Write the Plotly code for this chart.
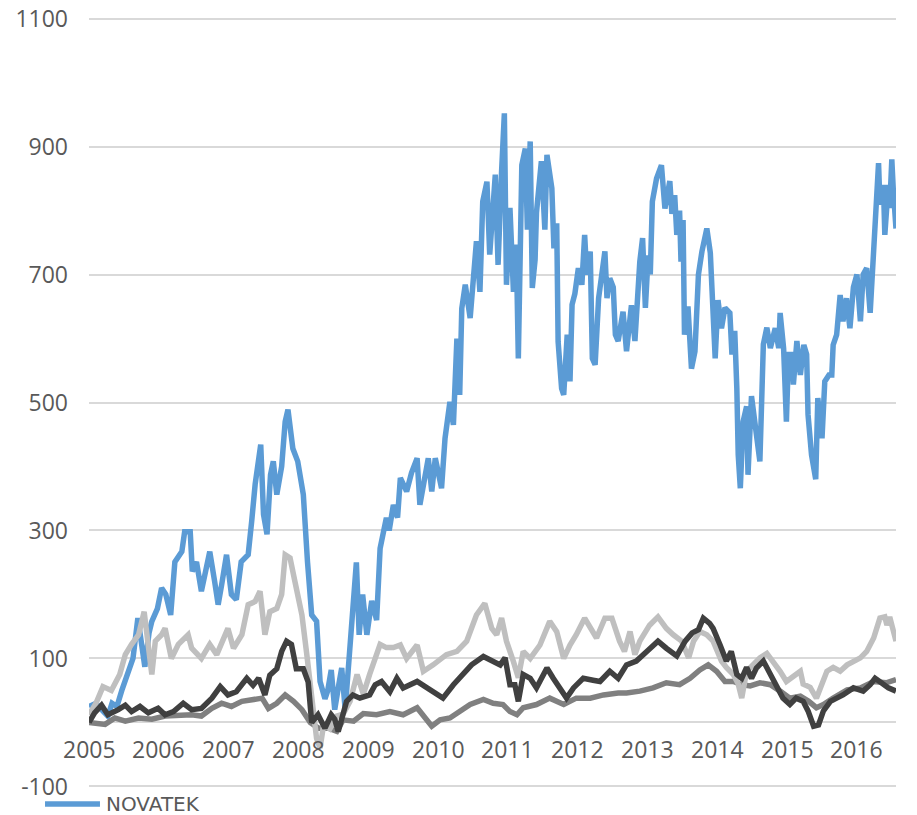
import plotly.graph_objects as go

# ---------------- data (decimal years, index values) ----------------
novatek_t = [2005.00, 2005.10, 2005.18, 2005.27, 2005.33, 2005.40, 2005.47, 2005.56, 2005.63, 2005.70,
             2005.76, 2005.80, 2005.86, 2005.90, 2005.98, 2006.04, 2006.10, 2006.17, 2006.23, 2006.33,
             2006.37, 2006.45, 2006.48, 2006.54, 2006.61, 2006.68, 2006.73, 2006.80, 2006.85, 2006.90,
             2006.97, 2007.04, 2007.11, 2007.18, 2007.28, 2007.33, 2007.38, 2007.46, 2007.50, 2007.55,
             2007.60, 2007.64, 2007.69, 2007.76, 2007.81, 2007.85, 2007.92, 2007.99, 2008.07, 2008.13,
             2008.19, 2008.26, 2008.31, 2008.38, 2008.42, 2008.47, 2008.52, 2008.58, 2008.62, 2008.67,
             2008.72, 2008.76, 2008.80, 2008.83, 2008.87, 2008.92, 2008.98, 2009.05, 2009.12, 2009.17,
             2009.26, 2009.30, 2009.36, 2009.42, 2009.46, 2009.55, 2009.62, 2009.70, 2009.74, 2009.86,
             2009.91, 2009.96, 2010.05, 2010.10, 2010.17, 2010.22, 2010.27, 2010.31, 2010.34, 2010.39,
             2010.46, 2010.50, 2010.55, 2010.60, 2010.64, 2010.70, 2010.74, 2010.82, 2010.86, 2010.91,
             2010.95, 2010.98, 2011.03, 2011.08, 2011.12, 2011.15, 2011.20, 2011.25, 2011.28, 2011.32,
             2011.35, 2011.39, 2011.41, 2011.48, 2011.53, 2011.56, 2011.63, 2011.66, 2011.70, 2011.72,
             2011.77, 2011.80, 2011.85, 2011.89, 2011.92, 2011.96, 2012.01, 2012.06, 2012.10, 2012.13,
             2012.18, 2012.21, 2012.25, 2012.30, 2012.34, 2012.39, 2012.42, 2012.46, 2012.51, 2012.54,
             2012.58, 2012.65, 2012.70, 2012.77, 2012.82, 2012.87, 2012.89, 2012.93, 2012.97, 2013.01,
             2013.04, 2013.07, 2013.13, 2013.20, 2013.25, 2013.32, 2013.35, 2013.39, 2013.42, 2013.46,
             2013.48, 2013.51, 2013.53, 2013.58, 2013.61, 2013.63, 2013.68, 2013.73, 2013.78, 2013.85,
             2013.90, 2013.93, 2013.97, 2014.01, 2014.06, 2014.11, 2014.18, 2014.21, 2014.25, 2014.28,
             2014.30, 2014.33, 2014.37, 2014.42, 2014.44, 2014.49, 2014.54, 2014.61, 2014.66, 2014.71,
             2014.76, 2014.83, 2014.88, 2014.90, 2014.95, 2014.99, 2015.02, 2015.07, 2015.09, 2015.14,
             2015.19, 2015.24, 2015.28, 2015.30, 2015.35, 2015.41, 2015.44, 2015.50, 2015.54, 2015.60,
             2015.64, 2015.66, 2015.71, 2015.76, 2015.80, 2015.85, 2015.90, 2015.95, 2016.00, 2016.05,
             2016.09, 2016.14, 2016.19, 2016.24, 2016.26, 2016.28, 2016.31, 2016.33, 2016.38, 2016.40,
             2016.45, 2016.47, 2016.50, 2016.52, 2016.56]
novatek_v = [25, 30, 20, 10, 30, 25, 50, 75, 100, 163,
             120, 87, 140, 158, 178, 210, 200, 168, 251, 267,
             298, 298, 236, 251, 205, 240, 267, 220, 184, 215,
             262, 200, 192, 251, 262, 314, 372, 434, 325, 294,
             387, 408, 356, 400, 470, 489, 428, 408, 356, 251,
             168, 158, 64, 37, 50, 82, 20, 60, 85, 20,
             100, 150, 200, 250, 137, 200, 137, 190, 160, 272,
             320, 300, 340, 320, 382, 361, 390, 413, 340, 413,
             361, 413, 366, 444, 501, 465, 600, 512, 647, 684,
             632, 694, 752, 673, 814, 845, 731, 856, 715, 861,
             952, 684, 804, 673, 747, 569, 871, 897, 770, 908,
             679, 723, 797, 877, 770, 887, 835, 741, 780, 595,
             522, 512, 606, 533, 653, 670, 710, 684, 762, 700,
             736, 569, 559, 663, 690, 736, 663, 694, 680, 606,
             596, 642, 580, 652, 596, 690, 720, 757, 648, 730,
             700, 814, 850, 871, 803, 846, 795, 824, 762, 800,
             720, 785, 606, 650, 596, 553, 580, 700, 736, 772,
             734, 670, 569, 660, 616, 648, 640, 575, 612, 522,
             418, 366, 470, 494, 387, 510, 470, 408, 591, 617,
             585, 616, 585, 640, 585, 470, 575, 575, 528, 596,
             543, 590, 575, 481, 418, 380, 507, 444, 533, 543,
             543, 590, 606, 668, 627, 663, 616, 680, 700, 627,
             700, 710, 640, 730, 762, 814, 874, 809, 840, 762,
             840, 804, 880, 835, 772]

light_t = [2005.00, 2005.10, 2005.20, 2005.32, 2005.44, 2005.52, 2005.61, 2005.71, 2005.79, 2005.85,
           2005.90, 2005.95, 2006.04, 2006.09, 2006.18, 2006.28, 2006.42, 2006.47, 2006.61, 2006.73,
           2006.83, 2006.99, 2007.07, 2007.19, 2007.28, 2007.38, 2007.45, 2007.52, 2007.59, 2007.69,
           2007.76, 2007.81, 2007.88, 2007.95, 2008.05, 2008.12, 2008.19, 2008.26, 2008.31, 2008.36,
           2008.45, 2008.55, 2008.64, 2008.74, 2008.84, 2008.93, 2009.02, 2009.17, 2009.26, 2009.36,
           2009.46, 2009.55, 2009.70, 2009.79, 2009.93, 2010.12, 2010.27, 2010.41, 2010.55, 2010.67,
           2010.77, 2010.84, 2010.91, 2010.98, 2011.08, 2011.15, 2011.22, 2011.32, 2011.46, 2011.60,
           2011.70, 2011.80, 2011.89, 2011.98, 2012.10, 2012.18, 2012.27, 2012.39, 2012.49, 2012.60,
           2012.67, 2012.75, 2012.82, 2012.89, 2013.03, 2013.15, 2013.27, 2013.37, 2013.49, 2013.59,
           2013.66, 2013.75, 2013.85, 2013.94, 2013.99, 2014.06, 2014.13, 2014.23, 2014.30, 2014.35,
           2014.42, 2014.52, 2014.61, 2014.71, 2014.80, 2014.90, 2014.99, 2015.11, 2015.19, 2015.23,
           2015.33, 2015.42, 2015.49, 2015.57, 2015.66, 2015.76, 2015.86, 2015.95, 2016.05, 2016.14,
           2016.24, 2016.33, 2016.40, 2016.43, 2016.47, 2016.56]
light_v = [12, 30, 56, 50, 75, 106, 122, 137, 173, 116,
           75, 127, 137, 147, 100, 122, 137, 116, 100, 122,
           106, 147, 116, 137, 184, 189, 205, 137, 173, 178,
           200, 262, 257, 220, 168, 106, 37, -25, -40, -4,
           -10, 10, 13, 33, 75, 44, 75, 122, 117, 117,
           121, 100, 121, 80, 90, 106, 111, 127, 168, 186,
           147, 137, 163, 127, 95, 70, 111, 100, 121, 158,
           142, 100, 121, 137, 163, 147, 132, 163, 163, 127,
           111, 142, 106, 127, 152, 165, 147, 137, 127, 101,
           127, 142, 137, 127, 116, 96, 86, 75, 60, 38,
           80, 90, 101, 108, 96, 80, 64, 75, 80, 60,
           55, 38, 60, 80, 86, 80, 90, 96, 101, 111,
           132, 163, 165, 152, 165, 127]

medium_t = [2005.00, 2005.23, 2005.37, 2005.52, 2005.71, 2005.90, 2006.09, 2006.28, 2006.47, 2006.61,
            2006.76, 2006.90, 2007.04, 2007.19, 2007.33, 2007.48, 2007.57, 2007.69, 2007.81, 2007.93,
            2008.05, 2008.17, 2008.29, 2008.43, 2008.55, 2008.64, 2008.79, 2008.93, 2009.12, 2009.31,
            2009.50, 2009.70, 2009.91, 2010.03, 2010.17, 2010.31, 2010.46, 2010.65, 2010.79, 2010.93,
            2011.03, 2011.13, 2011.22, 2011.41, 2011.60, 2011.80, 2011.98, 2012.18, 2012.37, 2012.58,
            2012.70, 2012.89, 2013.08, 2013.27, 2013.46, 2013.61, 2013.75, 2013.87, 2013.99, 2014.11,
            2014.23, 2014.35, 2014.47, 2014.61, 2014.76, 2014.90, 2015.04, 2015.19, 2015.31, 2015.42,
            2015.52, 2015.66, 2015.86, 2016.05, 2016.24, 2016.42, 2016.56]
medium_v = [0, -3, 7, 2, 7, 5, 10, 12, 12, 10,
            22, 30, 25, 33, 35, 38, 22, 30, 43, 33,
            20, 0, -9, -9, -14, 4, 2, 14, 12, 17,
            12, 23, -6, 4, 7, 17, 28, 36, 30, 28,
            17, 12, 23, 28, 38, 28, 38, 38, 43, 46,
            46, 49, 54, 62, 59, 69, 82, 90, 80, 64,
            64, 59, 57, 62, 59, 49, 38, 41, 33, 23,
            28, 38, 51, 54, 64, 62, 67]

dark_t = [2005.00, 2005.08, 2005.18, 2005.27, 2005.42, 2005.52, 2005.61, 2005.73, 2005.85, 2005.99,
          2006.09, 2006.21, 2006.35, 2006.47, 2006.61, 2006.76, 2006.88, 2006.99, 2007.11, 2007.26,
          2007.35, 2007.43, 2007.52, 2007.59, 2007.69, 2007.76, 2007.83, 2007.90, 2007.97, 2008.07,
          2008.14, 2008.19, 2008.28, 2008.38, 2008.47, 2008.52, 2008.57, 2008.69, 2008.78, 2008.88,
          2009.02, 2009.10, 2009.19, 2009.31, 2009.41, 2009.50, 2009.70, 2009.84, 2009.98, 2010.07,
          2010.22, 2010.36, 2010.48, 2010.65, 2010.79, 2010.89, 2010.96, 2011.03, 2011.10, 2011.15,
          2011.22, 2011.32, 2011.41, 2011.56, 2011.65, 2011.75, 2011.84, 2011.94, 2012.08, 2012.22,
          2012.32, 2012.46, 2012.58, 2012.70, 2012.84, 2012.99, 2013.15, 2013.27, 2013.42, 2013.54,
          2013.64, 2013.73, 2013.80, 2013.89, 2013.94, 2014.04, 2014.13, 2014.20, 2014.28, 2014.35,
          2014.42, 2014.49, 2014.56, 2014.66, 2014.76, 2014.85, 2014.94, 2015.04, 2015.13, 2015.23,
          2015.30, 2015.38, 2015.45, 2015.52, 2015.62, 2015.71, 2015.80, 2015.95, 2016.09, 2016.19,
          2016.26, 2016.35, 2016.45, 2016.56]
dark_v = [0, 15, 27, 12, 20, 27, 17, 25, 15, 22,
          12, 17, 30, 20, 22, 38, 56, 43, 48, 69,
          58, 69, 43, 74, 84, 111, 127, 122, 84, 84,
          63, 0, 12, -9, 12, 5, -14, 33, 43, 38,
          43, 59, 64, 48, 69, 54, 64, 54, 43, 38,
          59, 75, 90, 103, 96, 90, 101, 59, 59, 33,
          75, 69, 54, 85, 69, 54, 38, 54, 69, 66,
          64, 80, 69, 90, 96, 111, 127, 116, 104, 127,
          140, 145, 163, 155, 147, 121, 96, 111, 75, 69,
          86, 69, 85, 96, 75, 59, 38, 28, 38, 33,
          18, -6, -4, 18, 33, 38, 43, 54, 49, 59,
          69, 62, 54, 49]

year_ticks = list(range(2005, 2017))
year_labels = [str(y) for y in year_ticks]
y_ticks = [-100, 100, 300, 500, 700, 900, 1100]
y_labels = ["-100", "100", "300", "500", "700", "900", "1100"]
legend_name = "NOVATEK"

# ---------------- figure ----------------
FONT = "Open Sans"
TXT = "#595959"
GRID = "#D9D9D9"
BLUE = "#5B9BD5"
LW = 5.5

fig = go.Figure()
fig.add_trace(go.Scatter(x=novatek_t, y=novatek_v, mode="lines", name=legend_name,
                         line=dict(color=BLUE, width=LW), showlegend=False))
fig.add_trace(go.Scatter(x=medium_t, y=medium_v, mode="lines", name="s3",
                         line=dict(color="#808080", width=LW), showlegend=False))
fig.add_trace(go.Scatter(x=light_t, y=light_v, mode="lines", name="s2",
                         line=dict(color="#BFBFBF", width=LW), showlegend=False))
fig.add_trace(go.Scatter(x=dark_t, y=dark_v, mode="lines", name="s4",
                         line=dict(color="#404040", width=LW), showlegend=False))

# year labels sit just under the zero line
annotations = [dict(x=yr, y=0, xref="x", yref="y", text=lab, showarrow=False,
                    xanchor="center", yanchor="middle", yshift=-27,
                    font=dict(family=FONT, size=23, color=TXT))
               for yr, lab in zip(year_ticks, year_labels)]
# legend entry (line sample + label) below the plot, at the left
annotations.append(dict(x=0.0186, y=-0.0195, xref="paper", yref="paper", text=legend_name,
                        showarrow=False, xanchor="left", yanchor="middle",
                        font=dict(family="DejaVu Sans", size=20, color=TXT)))
shapes = [dict(type="line", xref="paper", yref="paper", x0=-0.0545, x1=0.0136,
               y0=-0.0194, y1=-0.0194, line=dict(color=BLUE, width=LW))]

fig.update_layout(
    width=917, height=815,
    margin=dict(l=89, r=21, t=16, b=26, autoexpand=False),
    paper_bgcolor="white", plot_bgcolor="white",
    font=dict(family=FONT, size=23, color=TXT),
    showlegend=False,
    hovermode=False,
    annotations=annotations,
    shapes=shapes,
    xaxis=dict(range=[2005, 2016.56], showticklabels=False, ticks="",
               showgrid=False, zeroline=False, showline=False),
    yaxis=dict(range=[-104, 1104], tickmode="array", tickvals=y_ticks, ticktext=y_labels,
               showgrid=True, gridcolor=GRID, gridwidth=1.5,
               zeroline=True, zerolinecolor=GRID, zerolinewidth=1.5,
               showline=False, ticks="", ticklabelstandoff=20, ticklabeloverflow="allow",
               tickfont=dict(family=FONT, size=23, color=TXT)),
)

# remove the default page margin so the figure fills the window exactly
fig.write_html("out.html", config={"displayModeBar": False},
               post_script="document.body.style.margin='0';")
